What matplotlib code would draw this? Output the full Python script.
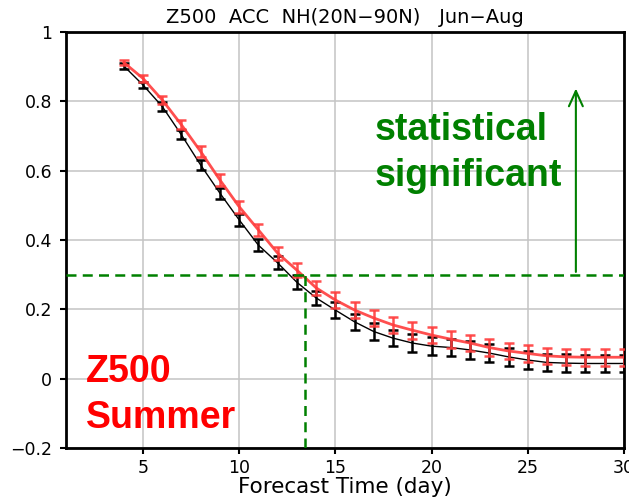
import matplotlib
matplotlib.use("Agg")
import matplotlib.pyplot as plt
import numpy as np

days = list(range(4, 31))
acc_red = [0.912, 0.866, 0.804, 0.732, 0.655, 0.573, 0.496, 0.429, 0.362, 0.313,
           0.262, 0.227, 0.198, 0.175, 0.155, 0.140, 0.126, 0.114, 0.103, 0.090,
           0.080, 0.073, 0.066, 0.063, 0.062, 0.062, 0.062]
acc_black = [0.902, 0.847, 0.785, 0.703, 0.616, 0.535, 0.458, 0.385, 0.334, 0.278,
             0.233, 0.198, 0.164, 0.136, 0.117, 0.103, 0.094, 0.090, 0.083, 0.074,
             0.063, 0.054, 0.047, 0.045, 0.044, 0.044, 0.044]
err_red = [0.008, 0.010, 0.012, 0.013, 0.015, 0.016, 0.017, 0.018, 0.019, 0.020,
           0.021, 0.022, 0.022, 0.023, 0.023, 0.024, 0.024, 0.024, 0.024, 0.024,
           0.024, 0.024, 0.024, 0.024, 0.024, 0.024, 0.024]
err_black = [0.008, 0.010, 0.012, 0.013, 0.015, 0.016, 0.017, 0.018, 0.019, 0.020,
             0.021, 0.022, 0.023, 0.024, 0.024, 0.025, 0.025, 0.025, 0.025, 0.025,
             0.025, 0.025, 0.025, 0.025, 0.025, 0.025, 0.025]
sig_level = 0.3
sig_day = 13.4

fig = plt.figure(figsize=(6.29, 4.99), dpi=100)
ax = fig.add_axes([0.105, 0.102, 0.887, 0.834])

ax.set_xlim(1, 30)
ax.set_ylim(-0.2, 1.0)
ax.set_xticks([5, 10, 15, 20, 25, 30])
ax.set_yticks([-0.2, 0, 0.2, 0.4, 0.6, 0.8, 1.0])
ax.set_yticklabels(["\u22120.2", "0", "0.2", "0.4", "0.6", "0.8", "1"])
ax.grid(True, color="#c4c4c4", linewidth=1.1)
ax.set_axisbelow(True)
for s in ax.spines.values():
    s.set_linewidth(2.0)
ax.tick_params(direction="out", length=4, width=1.5, labelsize=12.5)
ax.tick_params(axis="y", pad=6)
ax.tick_params(axis="x", pad=4)

ax.errorbar(days, acc_black, yerr=err_black, color="black", linewidth=1.0,
            elinewidth=1.8, capsize=3.6, capthick=1.8, zorder=3)
ax.errorbar(days, acc_red, yerr=err_red, color="#ff3c3c", linewidth=2.0,
            elinewidth=1.8, capsize=3.6, capthick=1.8, alpha=0.9, zorder=4)

ax.plot([1, 30], [sig_level, sig_level], color="#008000", linestyle=(0, (4, 2.5)),
        linewidth=1.8, zorder=5)
ax.plot([sig_day, sig_day], [-0.2, sig_level], color="#008000", linestyle=(0, (4, 2.5)),
        linewidth=1.8, zorder=5)
ax.annotate("", xy=(27.5, 0.845), xytext=(27.5, sig_level),
            arrowprops=dict(arrowstyle="->,head_length=1.1,head_width=0.5",
                            color="#008000", linewidth=1.5), zorder=5)

ax.text(0.553, 0.765, "statistical", transform=ax.transAxes,
        fontsize=27, fontweight="bold", color="#008000", family="Liberation Sans",
        ha="left", va="center")
ax.text(0.553, 0.655, "significant", transform=ax.transAxes,
        fontsize=27, fontweight="bold", color="#008000", family="Liberation Sans",
        ha="left", va="center")
ax.text(0.035, 0.183, "Z500", transform=ax.transAxes,
        fontsize=27, fontweight="bold", color="#ff0000", family="Liberation Sans",
        ha="left", va="center")
ax.text(0.035, 0.073, "Summer", transform=ax.transAxes,
        fontsize=27, fontweight="bold", color="#ff0000", family="Liberation Sans",
        ha="left", va="center")

fig.text(0.548, 0.965, "Z500  ACC  NH(20N\u221290N)   Jun\u2212Aug", fontsize=14,
         ha="center", va="center")
ax.set_xlabel("Forecast Time (day)", fontsize=15.5, labelpad=0)

fig.savefig("out.png", dpi=100)
